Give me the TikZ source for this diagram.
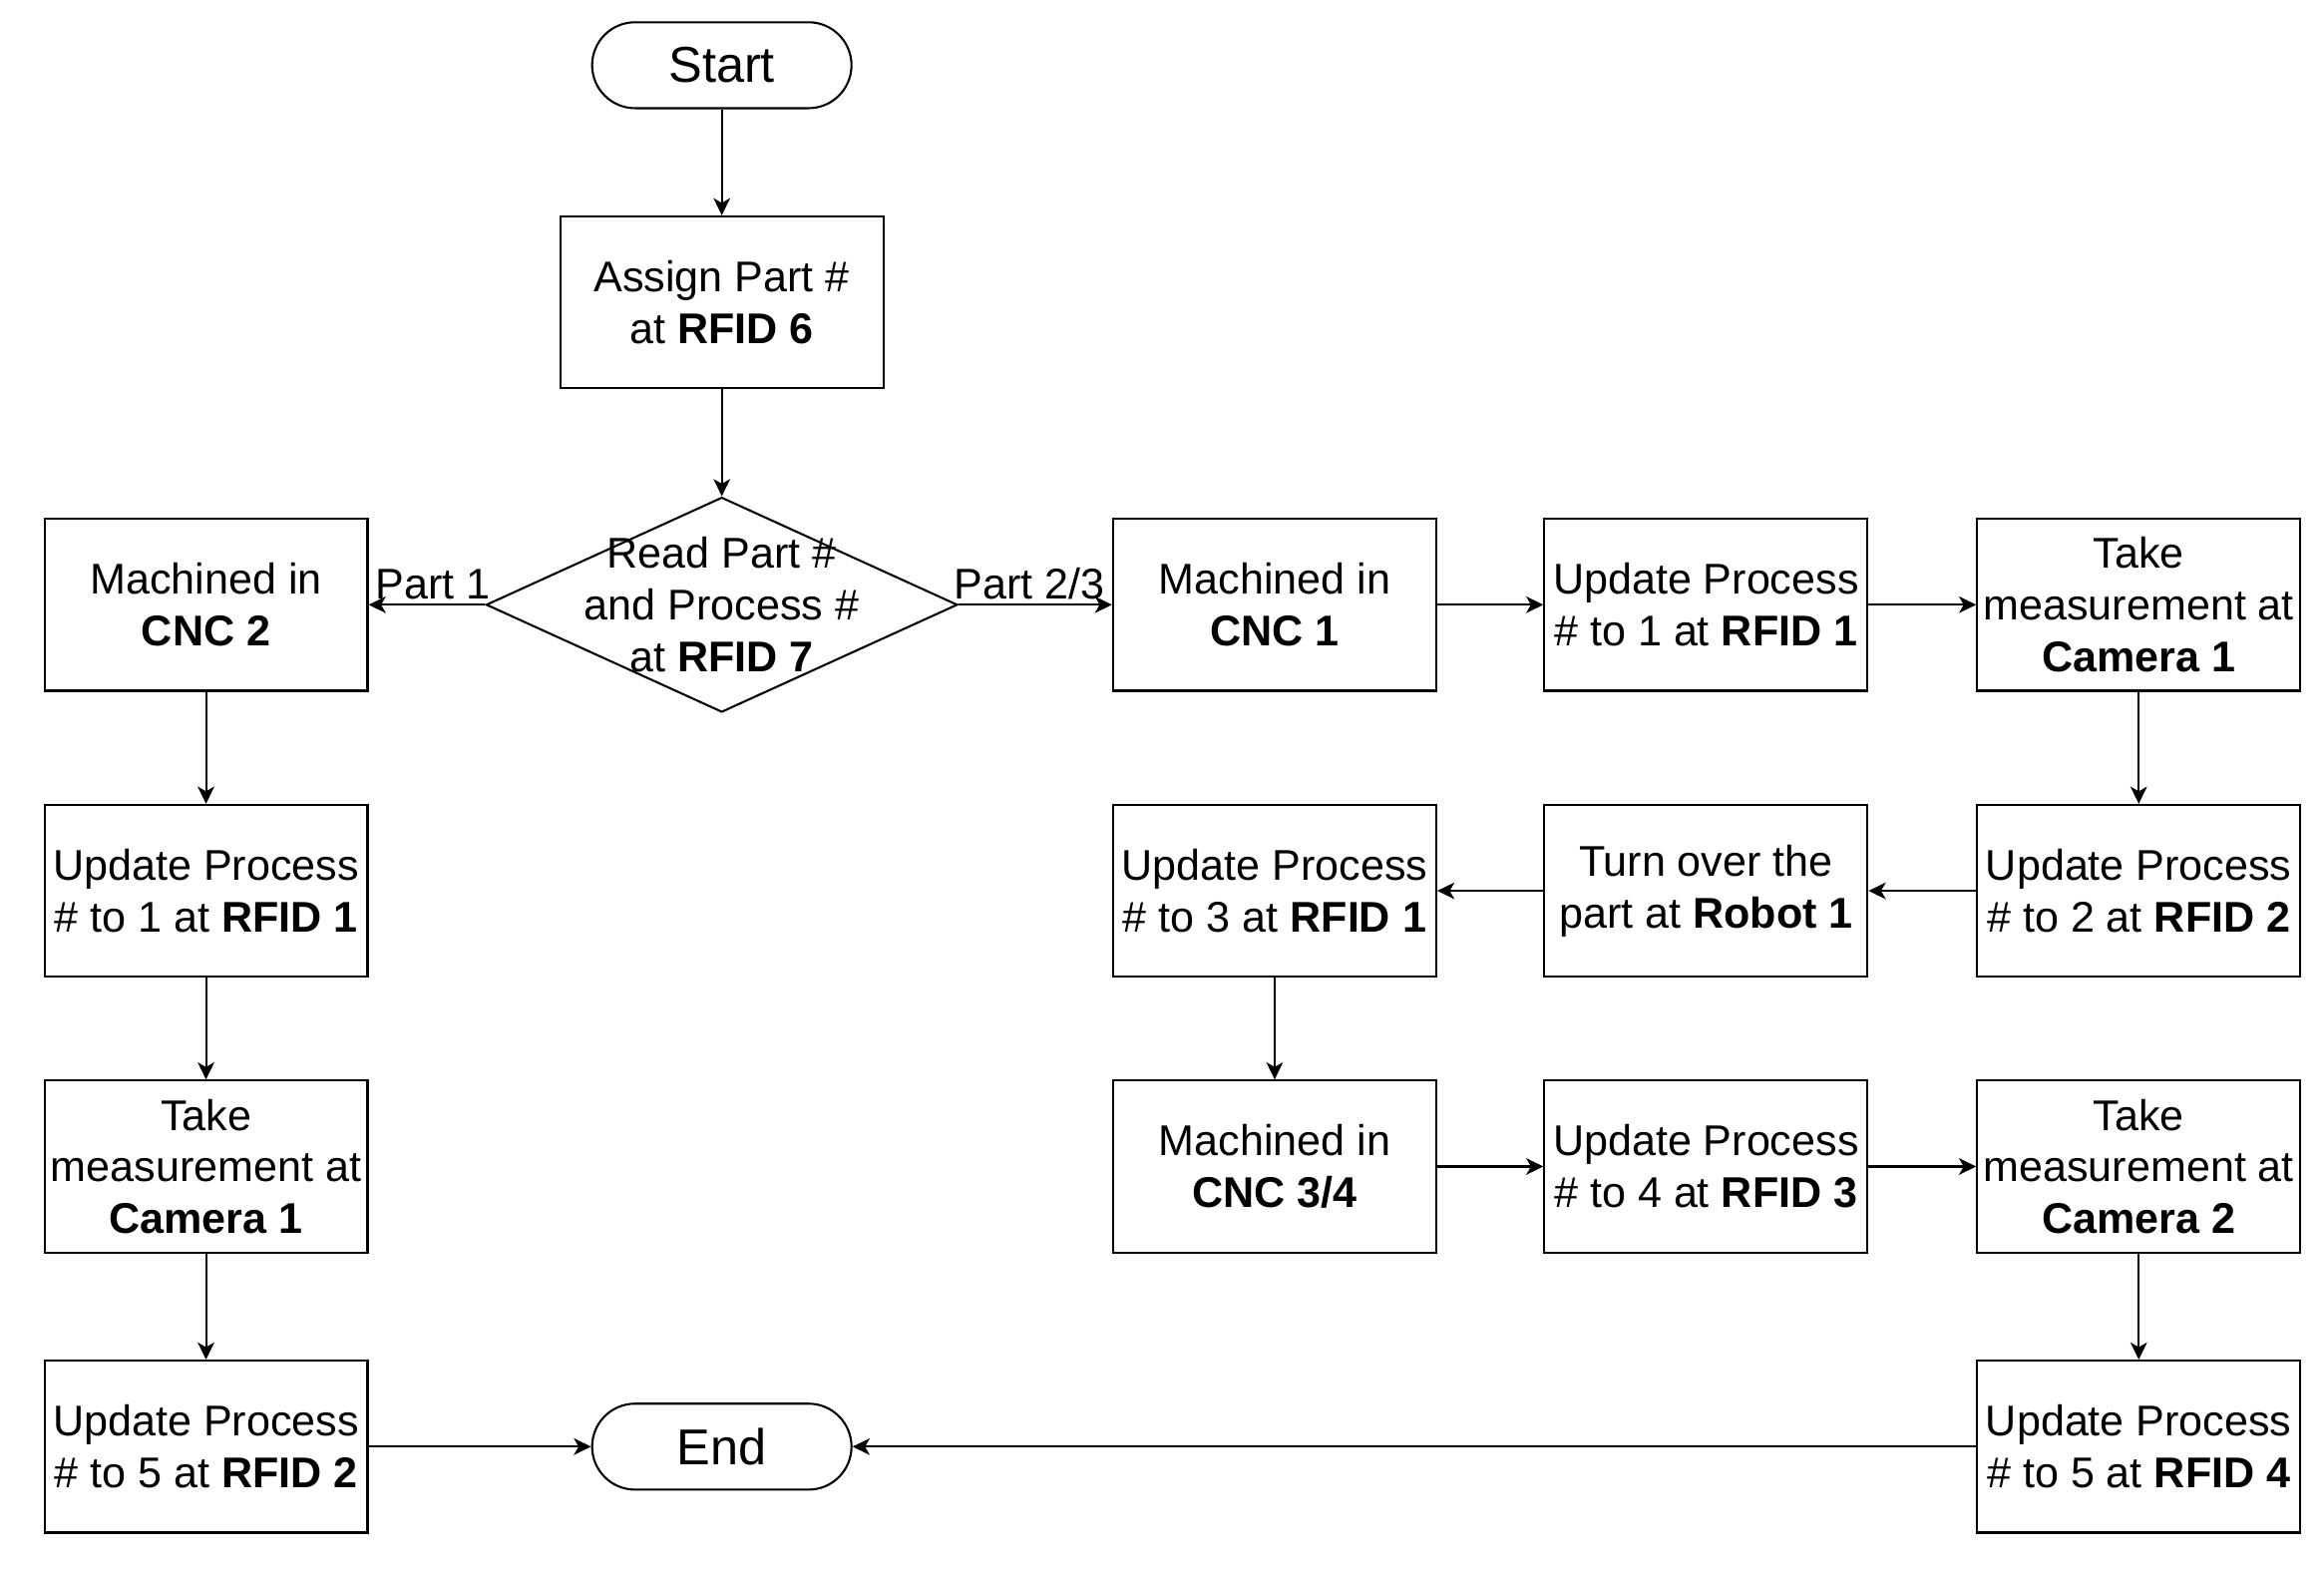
\documentclass[tikz,border=0pt]{standalone}
\usepackage{fontspec}
\setmainfont{Liberation Sans}
\usetikzlibrary{arrows.meta,shapes.geometric}
\begin{document}
\begin{tikzpicture}[x=0.5pt,y=-0.5pt,
  box/.style={draw,line width=0.7pt,minimum width=109pt,minimum height=58pt,inner sep=1pt,align=center,font=\fontsize{14.5}{17.4}\selectfont},
  term/.style={draw,line width=0.7pt,rounded corners=14.5pt,minimum width=87.5pt,minimum height=29pt,inner sep=1pt,font=\fontsize{17}{20}\selectfont},
  arr/.style={line width=0.7pt,-{Stealth[length=5.8pt,width=5.6pt,inset=1.6pt]}},
  lbl/.style={font=\fontsize{14.5}{17.4}\selectfont,inner sep=0pt}]
\useasboundingbox (0,0) rectangle (1568,1060.6);
% centre column
\node[term] (start) at (487,44) {Start};
\node[box] (assign) at (487,204) {Assign Part \#\\at \textbf{RFID 6}};
\node[draw,line width=0.7pt,diamond,minimum width=159pt,minimum height=72.5pt,inner sep=0pt,
  label={[lbl,align=center]center:Read Part \#\\and Process \#\\at \textbf{RFID 7}}] (dec) at (487,408) {};
\node[term] (end) at (487,976) {End};
% left column
\node[box] (cnc2) at (139,408) {Machined in\\\textbf{CNC 2}};
\node[box] (updA) at (139,601) {Update Process\\\# to 1 at \textbf{RFID 1}};
\node[box] (camA) at (139,787) {Take\\measurement at\\\textbf{Camera 1}};
\node[box] (updB) at (139,976) {Update Process\\\# to 5 at \textbf{RFID 2}};
% right block
\node[box] (cnc1) at (860,408) {Machined in\\\textbf{CNC 1}};
\node[box] (rf1) at (1151,408) {Update Process\\\# to 1 at \textbf{RFID 1}};
\node[box] (cam1) at (1443,408) {Take\\measurement at\\\textbf{Camera 1}};
\node[box] (rf2) at (1443,601) {Update Process\\\# to 2 at \textbf{RFID 2}};
\node[box] (turn) at (1151,601) {Turn over the\\part at \textbf{Robot 1}};
\node[box] (rf3) at (860,601) {Update Process\\\# to 3 at \textbf{RFID 1}};
\node[box] (cnc34) at (860,787) {Machined in\\\textbf{CNC 3/4}};
\node[box] (rf4) at (1151,787) {Update Process\\\# to 4 at \textbf{RFID 3}};
\node[box] (cam2) at (1443,787) {Take\\measurement at\\\textbf{Camera 2}};
\node[box] (rf5) at (1443,976) {Update Process\\\# to 5 at \textbf{RFID 4}};
% connectors
\draw[arr] (start) -- (assign);
\draw[arr] (assign) -- (dec);
\draw[arr] (dec) -- node[lbl,anchor=base,yshift=2pt,xshift=2pt]{Part 1} (cnc2);
\draw[arr] (dec) -- node[lbl,anchor=base,yshift=2pt,xshift=-2pt]{Part 2/3} (cnc1);
\draw[arr] (cnc2) -- (updA);
\draw[arr] (updA) -- (camA);
\draw[arr] (camA) -- (updB);
\draw[arr] (updB) -- (end);
\draw[arr] (cnc1) -- (rf1);
\draw[arr] (rf1) -- (cam1);
\draw[arr] (cam1) -- (rf2);
\draw[arr] (rf2) -- (turn);
\draw[arr] (turn) -- (rf3);
\draw[arr] (rf3) -- (cnc34);
\draw[arr] (cnc34) -- (rf4);
\draw[arr] (rf4) -- (cam2);
\draw[arr] (cam2) -- (rf5);
\draw[arr] (rf5) -- (end);
\end{tikzpicture}
\end{document}
